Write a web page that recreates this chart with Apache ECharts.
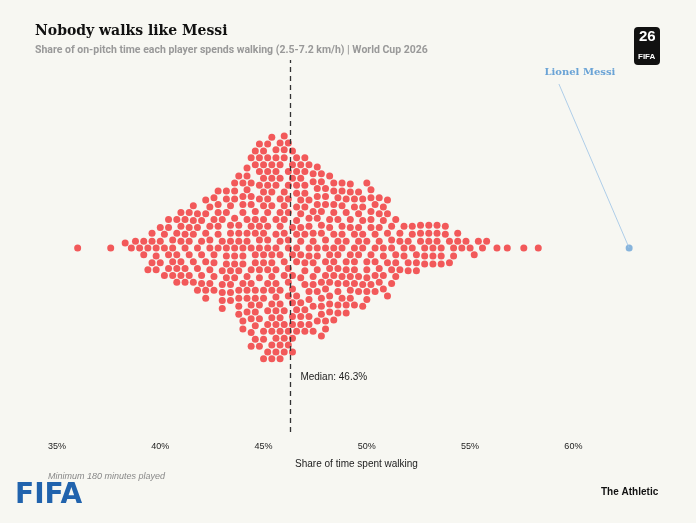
<!DOCTYPE html>
<html><head><meta charset="utf-8">
<script src="https://cdn.jsdelivr.net/npm/echarts@6/dist/echarts.min.js"></script>
<style>html,body{margin:0;padding:0;background:#f7f7f2}#c{width:696px;height:523px}</style>
</head><body><div id="c"></div>
<script>
// Bin values (% walking) and number of players per bin
const binValues = [39.0,39.2,39.4,39.6,39.8,40.0,40.2,40.4,40.6,40.8,
41.0,41.2,41.4,41.6,41.8,42.0,42.2,42.4,42.6,42.8,
43.0,43.2,43.4,43.6,43.8,44.0,44.2,44.4,44.6,44.8,
45.0,45.2,45.4,45.6,45.8,46.0,46.2,46.4,46.6,46.8,
47.0,47.2,47.4,47.6,47.8,48.0,48.2,48.4,48.6,48.8,
49.0,49.2,49.4,49.6,49.8,50.0,50.2,50.4,50.6,50.8,
51.0,51.2,51.4,51.6,51.8,52.0,52.2,52.4,52.6,52.8,
53.0,53.2,53.4,53.6,53.8,54.0,54.2,54.4,54.6,54.8,
55.0,55.2,55.4,55.6,55.8];
const binCounts = [1,2,2,3,3,3,3,4,4,5,
5,5,5,5,5,5,6,6,6,6,
7,7,8,8,9,10,10,12,12,13,
14,14,14,14,14,13,12,12,12,11,
11,10,10,10,10,10,9,9,9,8,
8,8,8,7,7,7,7,6,6,6,
5,5,4,3,3,3,3,3,3,3,
3,3,3,3,2,2,2,2,1,1,
1,1,1,1,1];
const outlierValues = [36.0,37.6,38.3,38.6,38.8,56.3,56.8,57.6,58.3];
const messiValue = 62.7;
const medianValue = 46.3;
const xTicks = [35,40,45,50,55,60];

const players = [];
binValues.forEach((v,i)=>{for(let k=0;k<binCounts[i];k++)players.push(v);});
outlierValues.forEach(v=>players.push(v));

const chart = echarts.init(document.getElementById('c'));
const gridLeft=57, gridRight=40, xMin=35, xMax=64;
const pxPerUnit = (696-gridLeft-gridRight)/(xMax-xMin);
// beeswarm dodge layout, placement order interleaved for a less regular packing
const D=8.0, placed=[], swarm=[];
const n=players.length, order=[];
for(let i=0;i<n;i++)order.push(players[(i*97)%n]);
order.forEach(v=>{
  const x=v*pxPerUnit;
  const near=placed.filter(p=>Math.abs(p[0]-x)<D);
  let cands=[0];
  near.forEach(p=>{const dy=Math.sqrt(D*D-(p[0]-x)**2);cands.push(p[1]+dy,p[1]-dy);});
  cands.sort((a,b)=>Math.abs(a)-Math.abs(b));
  let y=0;
  for(const c of cands){if(near.every(p=>(p[0]-x)**2+(p[1]-c)**2>=D*D-0.01)){y=c;break;}}
  placed.push([x,y]);swarm.push([v,y]);
});

chart.setOption({
  backgroundColor:'#f7f7f2',
  animation:false,
  title:[{text:'Nobody walks like Messi',left:30,top:19,textStyle:{fontFamily:'DejaVu Serif',fontSize:14,fontWeight:'bold',color:'#111'}},
    {text:'Share of on-pitch time each player spends walking (2.5-7.2 km/h) | World Cup 2026',left:30,top:40,textStyle:{fontFamily:'Roboto',fontSize:10.5,fontWeight:'bold',color:'#999'}}],
  grid:{left:gridLeft,right:gridRight,top:60,bottom:91},
  xAxis:{type:'value',min:xMin,max:xMax,interval:5,axisLine:{show:false},axisTick:{show:false},splitLine:{show:false},
    axisLabel:{formatter:v=>xTicks.includes(v)?v+'%':'',fontSize:9,color:'#222',margin:10},
    name:'Share of time spent walking',nameLocation:'middle',nameGap:27,nameTextStyle:{fontSize:10,color:'#222'}},
  yAxis:{type:'value',min:-184,max:188,show:false},
  series:[
    {type:'scatter',data:swarm,symbolSize:7,itemStyle:{color:'#f2595a',opacity:1},
     markLine:{silent:true,symbol:'none',label:{show:false},lineStyle:{color:'#333',type:[5,4],width:1.3},data:[{xAxis:medianValue}]}},
    {type:'scatter',data:[[messiValue,0]],symbolSize:7,itemStyle:{color:'#6aa3d6'},
     markLine:{silent:true,symbol:'none',label:{show:false},lineStyle:{color:'#9cc3e6',type:'solid',width:0.8},
       data:[[{coord:[59.3,164]},{coord:[messiValue,0]}]]}}
  ]
});
const mp=chart.convertToPixel({gridIndex:0},[medianValue,-130]);
const lp=chart.convertToPixel({gridIndex:0},[58.6,175]);
chart.setOption({graphic:[
  {type:'text',left:mp[0]+10,top:mp[1]-6,style:{text:'Median: 46.3%',fontSize:10,fill:'#222'}},
  {type:'text',left:lp[0],top:lp[1]-6,style:{text:'Lionel Messi',fontFamily:'DejaVu Serif',fontSize:10,fontWeight:'bold',fill:'#6aa3d6'}},
  {type:'text',left:48,top:472,style:{text:'Minimum 180 minutes played',fontSize:9,fontStyle:'italic',fill:'#888'}},
  {type:'text',left:15,top:482,style:{text:'FIFA',fontSize:28,fontWeight:'bold',fill:'#2163ad',fontFamily:'DejaVu Sans'}},
  {type:'text',left:601,top:487,style:{text:'The Athletic',fontSize:10,fontWeight:'bold',fill:'#111'}},
  {type:'rect',left:634,top:27,shape:{width:26,height:38,r:4},style:{fill:'#111'}},
  {type:'text',left:639,top:29,style:{text:'26',fontSize:15,fontWeight:'bold',fill:'#fff'}},
  {type:'text',left:638,top:53,style:{text:'FIFA',fontSize:8,fontWeight:'bold',fill:'#fff'}}
]});
</script></body></html>
